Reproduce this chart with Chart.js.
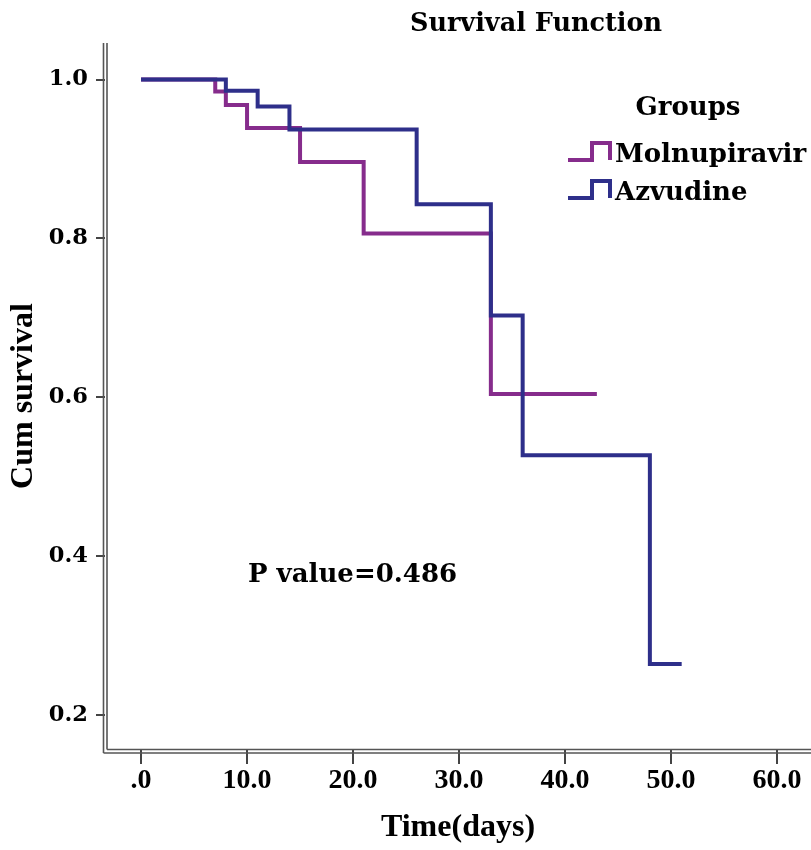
<!DOCTYPE html>
<html>
<head>
<meta charset="utf-8">
<title>Survival Function</title>
<script src="https://cdn.jsdelivr.net/npm/chart.js@4.4.0/dist/chart.umd.min.js"></script>
<style>
    html, body { margin: 0; padding: 0; background: #fff; }
    #survivalChart { display: block; }
</style>
</head>
<body>
<canvas id="survivalChart" width="811" height="850"></canvas>
<script>
// Kaplan-Meier steps (time in days, cumulative survival)
const molnupiravirTimes = [0, 7, 8, 10, 15, 21, 33, 43];
const molnupiravirSurv = [1.0, 0.985, 0.968, 0.939, 0.896, 0.806, 0.604, 0.604];
const azvudineTimes = [0, 8, 11, 14, 26, 33, 36, 48, 51];
const azvudineSurv = [1.0, 0.986, 0.966, 0.937, 0.843, 0.703, 0.527, 0.264, 0.264];

const groupNames = ['Molnupiravir', 'Azvudine'];
const groupColors = ['#862c8c', '#2e2f8a'];

const xTickValues = [0, 10, 20, 30, 40, 50, 60];
const xTickLabels = ['.0', '10.0', '20.0', '30.0', '40.0', '50.0', '60.0'];
const yTickValues = [0.2, 0.4, 0.6, 0.8, 1.0];
const yTickLabels = ['0.2', '0.4', '0.6', '0.8', '1.0'];

const chartTitle = 'Survival Function';
const legendTitle = 'Groups';
const pValueText = 'P value=0.486';

const toPoints = (xs, ys) => xs.map((x, i) => ({ x: x, y: ys[i] }));

// draws title, legend, p value and the double axis lines SPSS style
const decorations = {
    id: 'decorations',
    afterDraw(chart) {
        const ctx = chart.ctx;
        const area = chart.chartArea;
        ctx.save();

        // double axis lines
        ctx.strokeStyle = '#555';
        ctx.lineWidth = 1.6;
        ctx.beginPath();
        ctx.moveTo(area.left - 1.5, area.top);
        ctx.lineTo(area.left - 1.5, area.bottom + 4);
        ctx.moveTo(area.left + 2, area.top);
        ctx.lineTo(area.left + 2, area.bottom + 0.5);
        ctx.moveTo(area.left - 1.5, area.bottom + 4);
        ctx.lineTo(area.right, area.bottom + 4);
        ctx.moveTo(area.left + 2, area.bottom + 0.5);
        ctx.lineTo(area.right, area.bottom + 0.5);
        ctx.stroke();

        ctx.fillStyle = '#000';
        ctx.textBaseline = 'alphabetic';

        // title
        ctx.font = 'bold 25.5px "DejaVu Serif"';
        ctx.textAlign = 'center';
        ctx.fillText(chartTitle, 536, 31);

        // legend
        ctx.font = 'bold 26px "DejaVu Serif"';
        ctx.fillText(legendTitle, 688, 115);
        ctx.textAlign = 'left';
        const rows = [162, 200];
        groupNames.forEach((name, i) => {
            const base = rows[i] - 2;
            ctx.strokeStyle = groupColors[i];
            ctx.lineWidth = 4;
            ctx.beginPath();
            ctx.moveTo(568, base);
            ctx.lineTo(592, base);
            ctx.lineTo(592, base - 17);
            ctx.lineTo(610, base - 17);
            ctx.lineTo(610, base);
            ctx.stroke();
            ctx.fillStyle = '#000';
            ctx.fillText(name, 615, rows[i]);
        });

        // p value
        ctx.font = 'bold 26px "DejaVu Serif"';
        ctx.fillText(pValueText, 248, 582);

        ctx.restore();
    }
};

const chart = new Chart(document.getElementById('survivalChart'), {
    type: 'line',
    data: {
        datasets: [
            {
                label: groupNames[0],
                data: toPoints(molnupiravirTimes, molnupiravirSurv),
                borderColor: groupColors[0],
                borderWidth: 4,
                stepped: 'before',
                pointRadius: 0,
                fill: false,
                order: 1
            },
            {
                label: groupNames[1],
                data: toPoints(azvudineTimes, azvudineSurv),
                borderColor: groupColors[1],
                borderWidth: 4,
                stepped: 'before',
                pointRadius: 0,
                fill: false,
                order: 0
            }
        ]
    },
    options: {
        responsive: false,
        animation: false,
        layout: { padding: { top: 43, right: 0, left: 0, bottom: 0 } },
        plugins: {
            legend: { display: false },
            title: { display: false },
            tooltip: { enabled: false }
        },
        scales: {
            x: {
                type: 'linear',
                min: -3.4,
                max: 63.2,
                afterBuildTicks: scale => { scale.ticks = xTickValues.map(v => ({ value: v })); },
                afterFit: scale => { scale.height = 101; },
                border: { display: false },
                grid: {
                    drawOnChartArea: false,
                    drawTicks: true,
                    tickLength: 15,
                    color: '#444',
                    lineWidth: 2
                },
                ticks: {
                    autoSkip: false,
                    maxRotation: 0,
                    padding: 0,
                    color: '#000',
                    font: { family: '"Liberation Serif"', size: 28, weight: 'bold' },
                    callback: value => xTickLabels[xTickValues.indexOf(value)]
                },
                title: {
                    display: true,
                    text: 'Time(days)',
                    color: '#000',
                    font: { family: '"Liberation Serif"', size: 32, weight: 'bold' },
                    padding: { top: 0, bottom: 3 }
                }
            },
            y: {
                type: 'linear',
                min: 0.157,
                max: 1.046,
                afterBuildTicks: scale => { scale.ticks = yTickValues.map(v => ({ value: v })); },
                afterFit: scale => { scale.width = 105; },
                border: { display: false },
                grid: {
                    drawOnChartArea: false,
                    drawTicks: true,
                    tickLength: 9,
                    color: '#444',
                    lineWidth: 2
                },
                ticks: {
                    autoSkip: false,
                    padding: 8,
                    color: '#000',
                    font: { family: '"DejaVu Serif"', size: 22.5, weight: 'bold' },
                    callback: value => yTickLabels[yTickValues.indexOf(value)]
                },
                title: {
                    display: true,
                    text: 'Cum survival',
                    color: '#000',
                    font: { family: '"Liberation Serif"', size: 32, weight: 'bold' },
                    padding: { top: 5, bottom: 0 }
                }
            }
        }
    },
    plugins: [decorations]
});
</script>
</body>
</html>
